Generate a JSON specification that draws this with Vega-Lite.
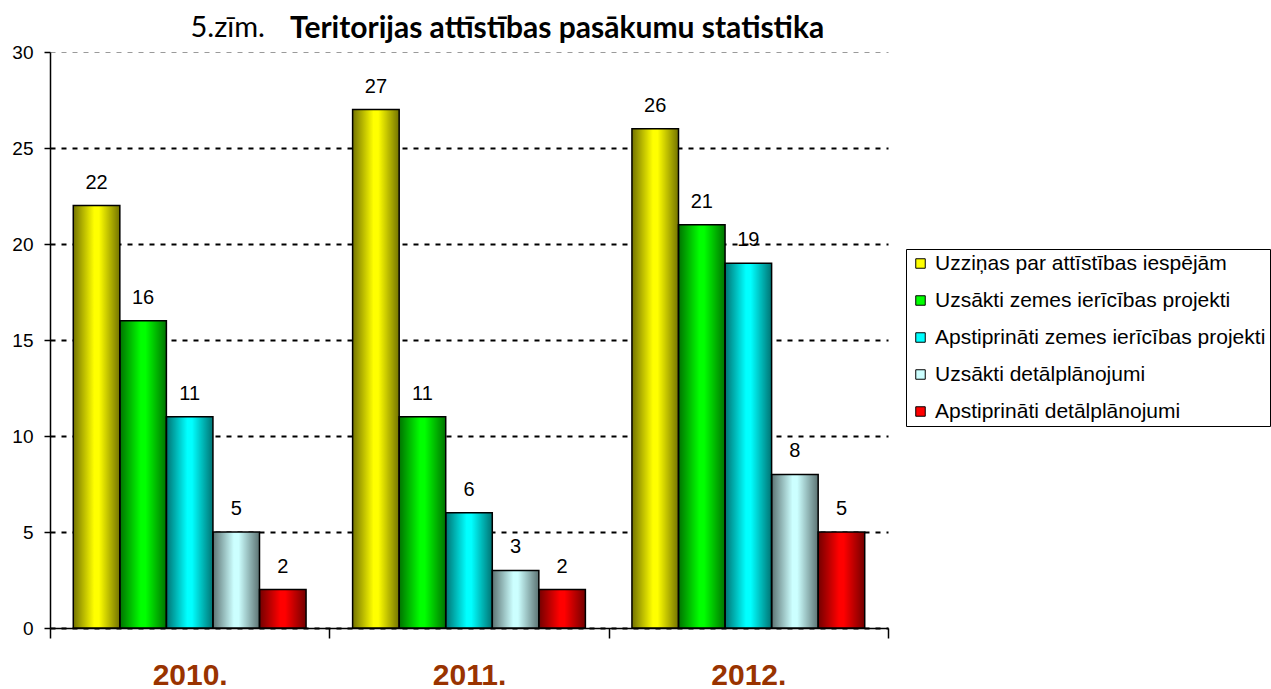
{
  "$schema": "https://vega.github.io/schema/vega-lite/v6.json",
  "autosize": "none",
  "width": 838,
  "height": 576,
  "padding": {"left": 50, "top": 52, "right": 383, "bottom": 61},
  "background": "white",
  "title": {
    "text": "Teritorijas attīstības pasākumu statistika",
    "anchor": "start",
    "frame": "group",
    "dx": 240,
    "offset": -55,
    "baseline": "alphabetic",
    "font": "Lato",
    "fontSize": 30,
    "fontWeight": "bold",
    "color": "black"
  },
  "data": {
    "values": [
      {"year": "2010.", "series": "Uzziņas par attīstības iespējām", "value": 22},
      {"year": "2010.", "series": "Uzsākti zemes ierīcības projekti", "value": 16},
      {"year": "2010.", "series": "Apstiprināti zemes ierīcības projekti", "value": 11},
      {"year": "2010.", "series": "Uzsākti detālplānojumi", "value": 5},
      {"year": "2010.", "series": "Apstiprināti detālplānojumi", "value": 2},
      {"year": "2011.", "series": "Uzziņas par attīstības iespējām", "value": 27},
      {"year": "2011.", "series": "Uzsākti zemes ierīcības projekti", "value": 11},
      {"year": "2011.", "series": "Apstiprināti zemes ierīcības projekti", "value": 6},
      {"year": "2011.", "series": "Uzsākti detālplānojumi", "value": 3},
      {"year": "2011.", "series": "Apstiprināti detālplānojumi", "value": 2},
      {"year": "2012.", "series": "Uzziņas par attīstības iespējām", "value": 26},
      {"year": "2012.", "series": "Uzsākti zemes ierīcības projekti", "value": 21},
      {"year": "2012.", "series": "Apstiprināti zemes ierīcības projekti", "value": 19},
      {"year": "2012.", "series": "Uzsākti detālplānojumi", "value": 8},
      {"year": "2012.", "series": "Apstiprināti detālplānojumi", "value": 5}
    ]
  },
  "encoding": {
    "x": {
      "field": "year",
      "type": "nominal",
      "sort": null,
      "scale": {"paddingInner": 0, "paddingOuter": 0},
      "axis": {
        "title": null,
        "labelAngle": 0,
        "labelFont": "Liberation Sans",
        "labelFontSize": 30,
        "labelFontWeight": "bold",
        "labelColor": "#993300",
        "labelBaseline": "top",
        "labelPadding": 22,
        "tickBand": "extent",
        "tickSize": 10,
        "tickColor": "black",
        "tickWidth": 1.5,
        "domainColor": "black",
        "domainWidth": 1.5,
        "grid": false
      }
    },
    "xOffset": {
      "field": "series",
      "type": "nominal",
      "sort": null,
      "scale": {"paddingInner": 0, "paddingOuter": 0.5}
    },
    "y": {
      "field": "value",
      "type": "quantitative",
      "scale": {"domain": [0, 30], "nice": false},
      "axis": {
        "title": "5.zīm.",
        "titleAngle": 0,
        "titleX": 140,
        "titleY": -16,
        "titleAlign": "left",
        "titleBaseline": "alphabetic",
        "titleFont": "Lato",
        "titleFontSize": 29,
        "titleFontWeight": "normal",
        "titleColor": "black",
        "values": [0, 5, 10, 15, 20, 25, 30],
        "labelFont": "Liberation Sans",
        "labelFontSize": 19,
        "labelColor": "black",
        "labelPadding": 11,
        "tickSize": 6,
        "tickColor": "black",
        "tickWidth": 1.5,
        "domainColor": "black",
        "domainWidth": 1.5,
        "grid": true,
        "gridColor": {"condition": {"test": "datum.value === 30", "value": "#9a9a9a"}, "value": "black"},
        "gridWidth": {"condition": {"test": "datum.value === 30", "value": 1}, "value": 1.8},
        "gridDash": [5, 6]
      }
    }
  },
  "layer": [
    {
      "mark": {"type": "bar", "strokeWidth": 0},
      "encoding": {
        "color": {
          "field": "series",
          "type": "nominal",
          "sort": null,
          "scale": {
            "domain": [
              "Uzziņas par attīstības iespējām",
              "Uzsākti zemes ierīcības projekti",
              "Apstiprināti zemes ierīcības projekti",
              "Uzsākti detālplānojumi",
              "Apstiprināti detālplānojumi"
            ],
            "range": ["#FFFF00", "#00FF00", "#00FFFF", "#CCFFFF", "#FF0000"]
          },
          "legend": {
            "title": null,
            "orient": "none",
            "legendX": 856,
            "legendY": 197,
            "strokeColor": "black",
            "fillColor": "white",
            "padding": 4,
            "symbolType": "square",
            "symbolSize": 90,
            "symbolStrokeColor": "black",
            "symbolStrokeWidth": 1,
            "symbolOpacity": 1,
            "labelFont": "Liberation Sans",
            "labelFontSize": 21,
            "labelColor": "black",
            "labelLimit": 500,
            "labelOffset": 4,
            "rowPadding": 15
          }
        }
      }
    },
    {
      "mark": {
        "type": "bar",
        "stroke": "black",
        "strokeWidth": 1.5,
        "fill": {
          "gradient": "linear",
          "x1": 0, "y1": 0, "x2": 1, "y2": 0,
          "stops": [
            {"offset": 0, "color": "rgba(0,0,0,0.55)"},
            {"offset": 0.45, "color": "rgba(0,0,0,0)"},
            {"offset": 0.55, "color": "rgba(0,0,0,0)"},
            {"offset": 1, "color": "rgba(0,0,0,0.55)"}
          ]
        }
      }
    },
    {
      "mark": {
        "type": "text",
        "baseline": "middle",
        "dy": -23,
        "font": "Liberation Sans",
        "fontSize": 20,
        "color": "black"
      },
      "encoding": {"text": {"field": "value", "type": "quantitative"}}
    }
  ],
  "config": {"view": {"stroke": null}}
}
